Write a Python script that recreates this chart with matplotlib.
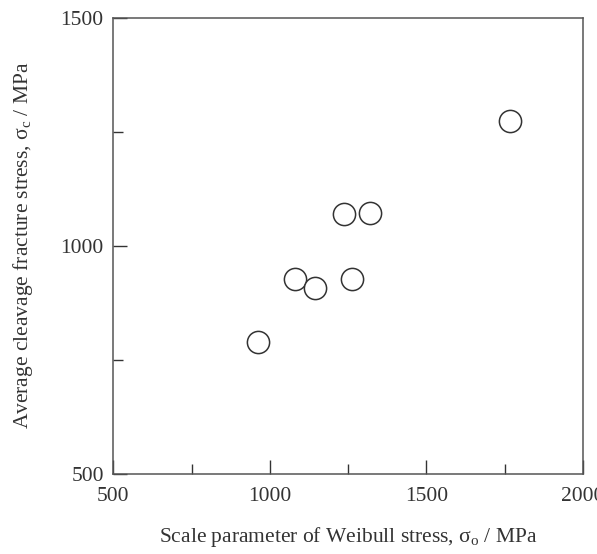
import matplotlib
matplotlib.use("Agg")
import matplotlib.pyplot as plt

# scale parameter of Weibull stress vs average cleavage fracture stress (MPa)
sigma_o = [963, 1080, 1145, 1237, 1262, 1320, 1767]
sigma_c = [789, 927, 907, 1069, 927, 1072, 1274]

x_ticks = [500, 1000, 1500, 2000]
y_ticks = [500, 1000, 1500]

plt.rcParams["font.family"] = ["Liberation Serif", "DejaVu Serif"]
plt.rcParams["mathtext.fontset"] = "custom"
plt.rcParams["mathtext.rm"] = "Liberation Serif"
plt.rcParams["mathtext.it"] = "Liberation Serif:italic"

ink = "#333333"
fig = plt.figure(figsize=(5.97, 5.54), dpi=100)
ax = fig.add_axes([0.190, 0.1444, 0.7865, 0.824])

ax.scatter(sigma_o, sigma_c, s=16**2, facecolors="white",
           edgecolors=ink, linewidths=1.1, zorder=3)

ax.set_xlim(500, 2000)
ax.set_ylim(500, 1500)
ax.set_xticks(x_ticks)
ax.set_yticks(y_ticks)
ax.set_xticks([750, 1250, 1750], minor=True)
ax.set_yticks([750, 1250], minor=True)
ax.tick_params(which="both", direction="in", colors=ink, labelsize=15.5, width=1.0)
ax.tick_params(which="major", length=10)
ax.tick_params(which="minor", length=7)
ax.tick_params(axis="x", which="major", pad=9)
ax.tick_params(axis="y", which="major", pad=7)

for sp in ax.spines.values():
    sp.set_color("#555555")
    sp.set_linewidth(1.1)

ax.set_xlabel("Scale parameter of Weibull stress, σ$_\\mathrm{o}$ / MPa",
              fontsize=15.5, color=ink, labelpad=14)
ax.set_ylabel("Average cleavage fracture stress, σ$_\\mathrm{c}$ / MPa",
              fontsize=15.5, color=ink, labelpad=18)

fig.savefig("out.png", dpi=100)
plt.close()
